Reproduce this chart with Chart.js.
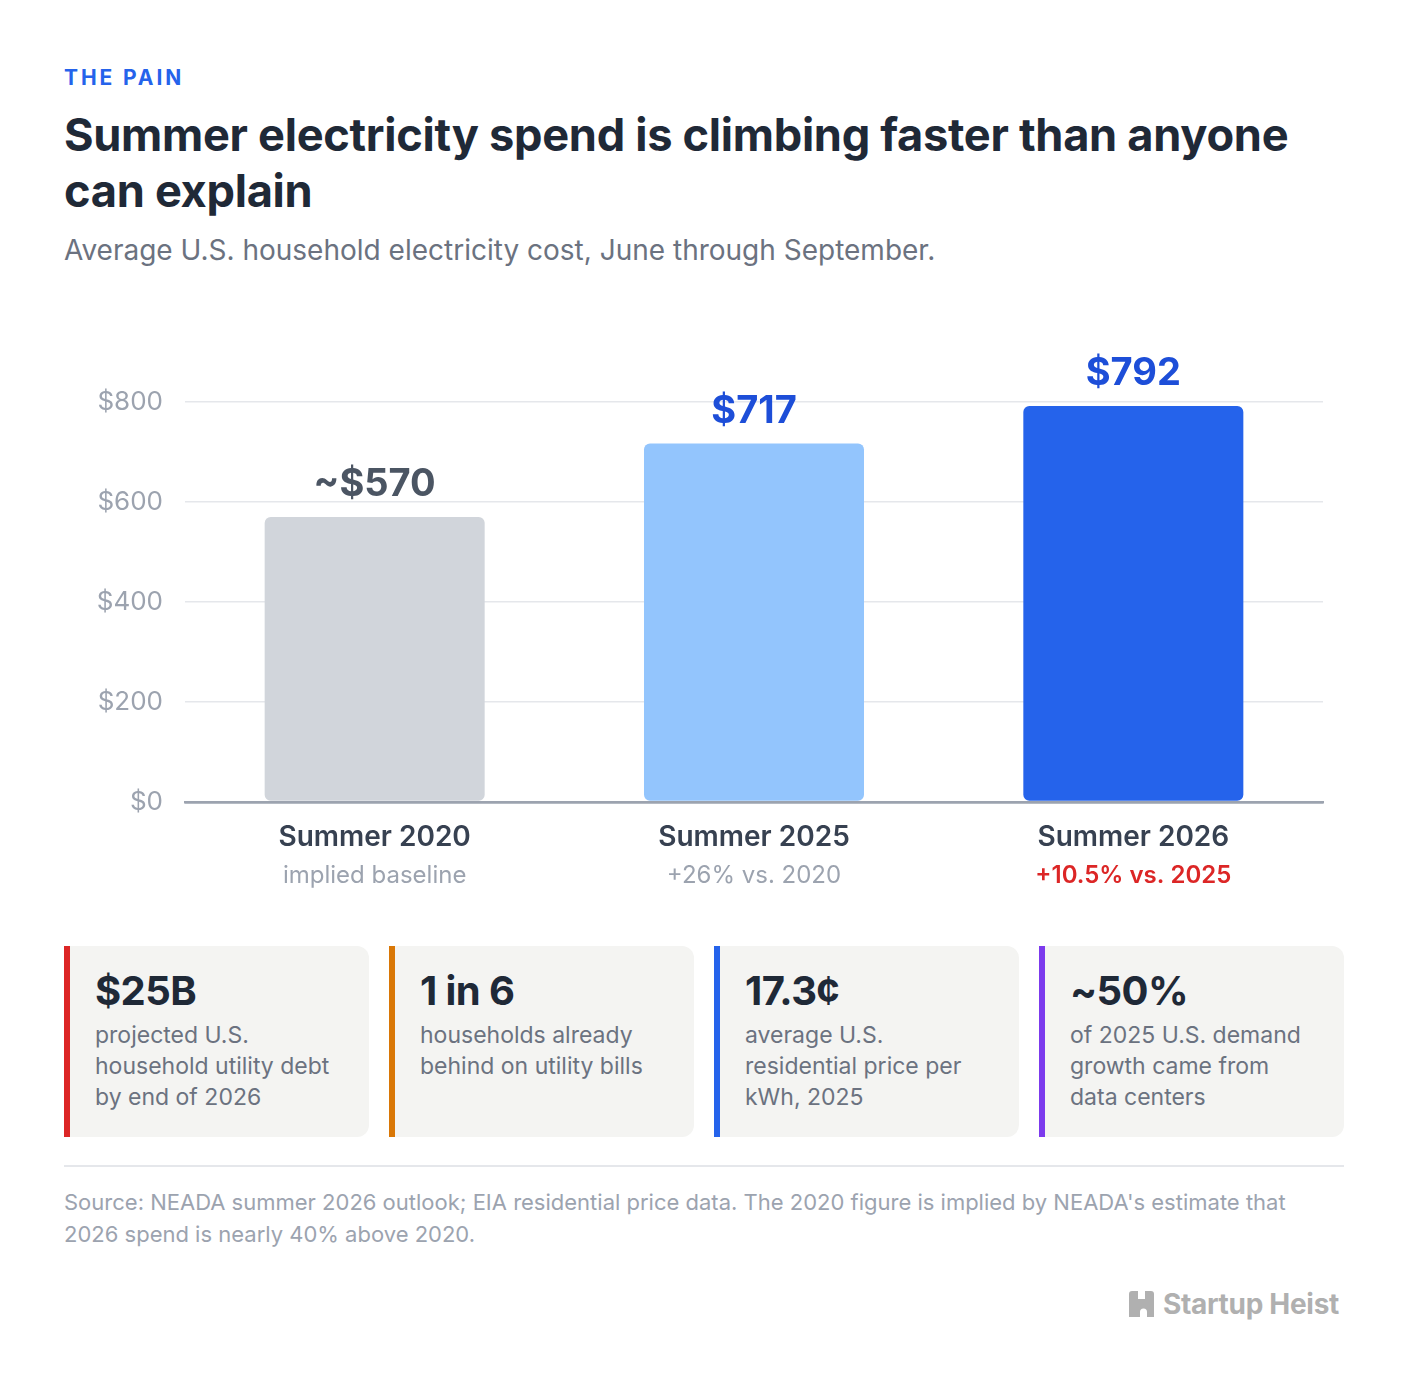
<!DOCTYPE html>
<html><head><meta charset="utf-8">
<script src="https://cdn.jsdelivr.net/npm/chart.js@4.4.1/dist/chart.umd.min.js"></script>
<style>
html,body{margin:0;padding:0;background:#fff;}
body{width:1408px;height:1388px;position:relative;font-family:Inter,"Noto Sans",sans-serif;overflow:hidden;}
.abs{position:absolute;left:64px;}
#kicker{top:66px;font-size:21px;line-height:24px;font-weight:700;letter-spacing:2.9px;color:#2563eb;}
#title{top:107px;width:1280px;font-size:45.2px;line-height:56px;font-weight:700;color:#1f2937;letter-spacing:-0.3px;}
#sub{top:232px;font-size:28px;line-height:36px;color:#6b7280;}
#chartWrap{top:330px;width:1280px;height:570px;}
#cards{top:946px;width:1280px;height:191px;display:flex;gap:20px;}
.card{flex:1;background:#f4f4f2;border-left:6px solid;border-radius:0 12px 12px 0;padding:21px 12px 0 25px;box-sizing:border-box;}
.big{font-size:40px;line-height:48px;font-weight:700;color:#1f2937;letter-spacing:-0.6px;}
.desc{font-size:23px;line-height:31px;color:#6b7280;margin-top:5px;}
#rule{top:1165px;width:1280px;height:2px;background:#e5e7eb;}
#source{top:1186px;width:1280px;font-size:22px;line-height:32px;color:#9ca3af;}
#logo{position:absolute;top:1289px;right:69px;display:flex;align-items:center;gap:9px;font-size:28px;font-weight:700;color:#b0b0b0;letter-spacing:-0.3px;line-height:30px;}
</style></head>
<body>
<div id="kicker" class="abs">THE PAIN</div>
<div id="title" class="abs">Summer electricity spend is climbing faster than anyone<br>can explain</div>
<div id="sub" class="abs">Average U.S. household electricity cost, June through September.</div>
<div id="chartWrap" class="abs"><canvas id="c"></canvas></div>
<div id="cards" class="abs">
  <div class="card" style="border-color:#dc2626"><div class="big">$25B</div><div class="desc">projected U.S.<br>household utility debt<br>by end of 2026</div></div>
  <div class="card" style="border-color:#d97706"><div class="big">1 in 6</div><div class="desc">households already<br>behind on utility bills</div></div>
  <div class="card" style="border-color:#2563eb"><div class="big">17.3¢</div><div class="desc">average U.S.<br>residential price per<br>kWh, 2025</div></div>
  <div class="card" style="border-color:#7c3aed"><div class="big">~50%</div><div class="desc">of 2025 U.S. demand<br>growth came from<br>data centers</div></div>
</div>
<div id="rule" class="abs"></div>
<div id="source" class="abs">Source: NEADA summer 2026 outlook; EIA residential price data. The 2020 figure is implied by NEADA's estimate that<br>2026 spend is nearly 40% above 2020.</div>
<div id="logo"><svg width="25" height="26" viewBox="0 0 25 26"><path fill="#b0b0b0" d="M3 0h6v8h7V0h6a3 3 0 0 1 3 3v23h-7v-5a3.5 3.5 0 0 0-7 0v5H0V3a3 3 0 0 1 3-3z"/></svg><span>Startup Heist</span></div>
<script>
const categories = ['Summer 2020', 'Summer 2025', 'Summer 2026'];
const subLabels = ['implied baseline', '+26% vs. 2020', '+10.5% vs. 2025'];
const values = [570, 717, 792];
const valueLabels = ['~$570', '$717', '$792'];
const yTickValues = [0, 200, 400, 600, 800];

const barColors = ['#d1d5db', '#93c5fd', '#2563eb'];
const valueColors = ['#4b5563', '#1d4ed8', '#1d4ed8'];
const subColors = ['#9ca3af', '#9ca3af', '#dc2626'];
const subWeights = ['400', '400', '600'];

const labelPlugin = {
  id: 'barLabels',
  afterDatasetsDraw(chart) {
    const ctx = chart.ctx;
    const meta = chart.getDatasetMeta(0);
    const xs = chart.scales.x;
    meta.data.forEach((bar, i) => {
      ctx.save();
      ctx.textAlign = 'center';
      ctx.font = '700 38px Inter';
      ctx.fillStyle = valueColors[i];
      ctx.textBaseline = 'alphabetic';
      ctx.fillText(valueLabels[i], bar.x, bar.y - 21);
      ctx.font = subWeights[i] + ' 24px Inter';
      ctx.fillStyle = subColors[i];
      ctx.textBaseline = 'middle';
      ctx.fillText(subLabels[i], xs.getPixelForValue(i), chart.chartArea.bottom + 74);
      ctx.restore();
    });
  }
};

new Chart(document.getElementById('c'), {
  type: 'bar',
  data: {
    labels: categories,
    datasets: [{
      data: values,
      backgroundColor: barColors,
      borderRadius: 6,
      borderSkipped: false,
      barPercentage: 0.58,
      categoryPercentage: 1
    }]
  },
  options: {
    responsive: true,
    maintainAspectRatio: false,
    animation: false,
    layout: { padding: { top: 72, right: 21, left: 0, bottom: 0 } },
    plugins: { legend: { display: false }, tooltip: { enabled: false } },
    scales: {
      x: {
        grid: { display: false, drawTicks: false },
        border: { display: true, color: '#9ca3af', width: 2.5 },
        ticks: { color: '#374151', font: { family: 'Inter', size: 28, weight: '600' }, padding: 19, maxRotation: 0 },
        afterFit(scale) { scale.height = 98; }
      },
      y: {
        min: 0, max: 800,
        afterBuildTicks(scale) { scale.ticks = yTickValues.map(v => ({ value: v })); },
        grid: {
          drawTicks: false,
          color: c => c.tick && c.tick.value === 0 ? '#9ca3af' : '#e5e7eb',
          lineWidth: c => c.tick && c.tick.value === 0 ? 2.5 : 1.5
        },
        border: { display: false },
        ticks: {
          color: '#9ca3af', padding: 22,
          font: { family: 'Inter', size: 26 },
          callback: v => '$' + v
        },
        afterFit(scale) { scale.width = 121; }
      }
    }
  },
  plugins: [labelPlugin]
});
</script>
</body></html>
